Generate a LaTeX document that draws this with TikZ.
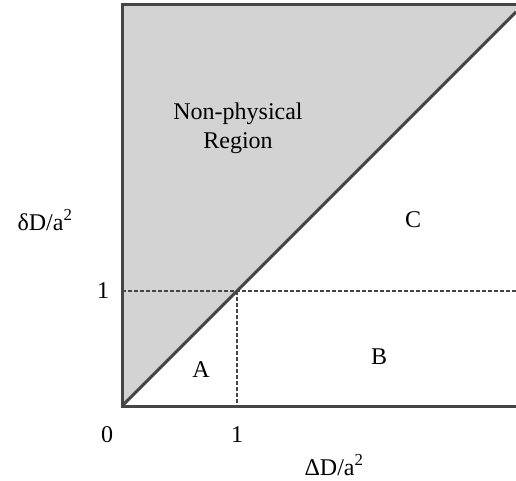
\documentclass[tikz,border=0pt]{standalone}
\usepackage{fontspec}
\setmainfont{Liberation Serif}
\usetikzlibrary{positioning}
\definecolor{edge}{HTML}{454545}
\definecolor{wedgegray}{HTML}{D3D3D3}

\begin{document}
\begin{tikzpicture}[x=1pt,y=1pt,axis/.style={draw=edge,line width=3pt},grid/.style={draw=edge,line width=1.8pt,dash pattern=on 3.5pt off 2.5pt},lbl/.style={font=\fontsize{24}{29}\selectfont,anchor=base,inner sep=0pt}]
 \useasboundingbox (0,0) rectangle (516,480);
 \coordinate (origin) at (122,74);
 \coordinate (unit) at (237,189);
 \coordinate (top) at (122,475);
 \coordinate (corner) at (516,475);
 \coordinate (diagend) at (516,468);
 \coordinate (xend) at (516,74);
 \coordinate (xone) at (237,74);
 \coordinate (yone) at (122,189);
 \coordinate (yright) at (516,189);
 % non-physical wedge
 \fill[wedgegray] (origin)--(top)--(corner)--(diagend)--cycle;
 \draw[grid] (yone)--(yright);
 \draw[grid] (unit)--(xone);
 \draw[axis] (origin)--(diagend);
 \draw[axis] (xend)--(origin)--(top)--(corner);
 \node[lbl] (nonphys) at (238,360) {Non-physical};
 \node[lbl] (region) at (238,331) {Region};
 \node[lbl] (labA) at (201,103) {A};
 \node[lbl] (labB) at (379,116) {B};
 \node[lbl] (labC) at (413,253) {C};
 \node[lbl] (zero) at (107,38) {0};
 \node[lbl] (xtick) at (237,38) {1};
 \node[lbl] (ytick) at (103,182) {1};
 \node[lbl] (xlabel) at (334,5) {ΔD/a\textsuperscript{2}};
 \node[lbl] (ylabel) at (45,250) {δD/a\textsuperscript{2}};
\end{tikzpicture}
\end{document}
